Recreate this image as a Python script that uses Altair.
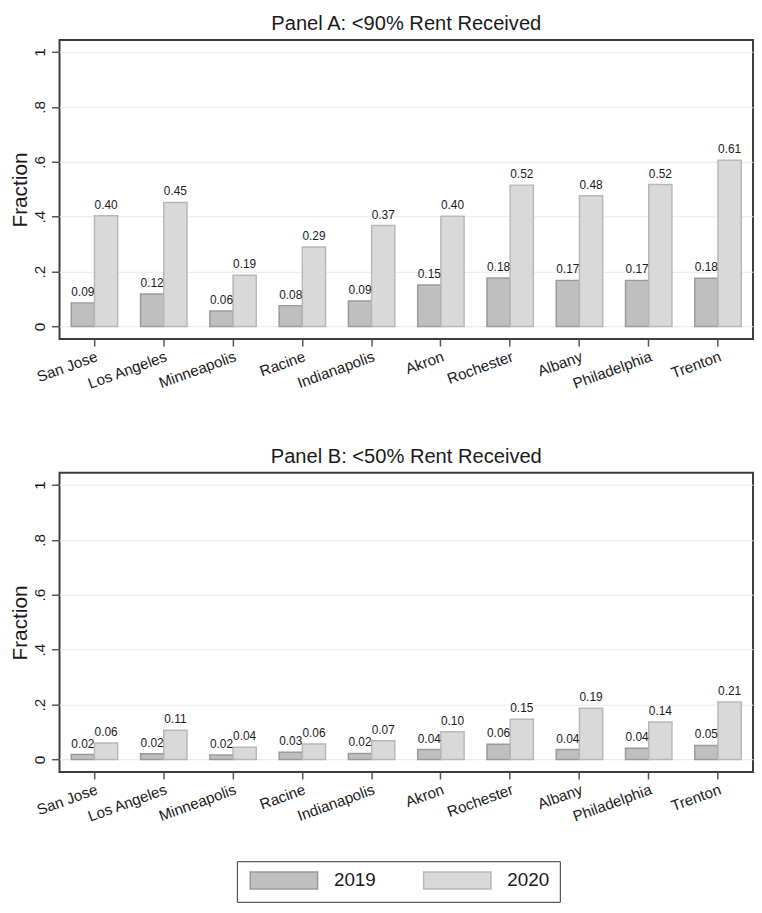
import altair as alt
import pandas as pd

cities = ["San Jose", "Los Angeles", "Minneapolis", "Racine", "Indianapolis",
          "Akron", "Rochester", "Albany", "Philadelphia", "Trenton"]
years = ["2019", "2020"]

# Panel A: <90% rent received
a_2019 = [0.086, 0.118, 0.056, 0.076, 0.093, 0.151, 0.177, 0.168, 0.168, 0.176]
a_2020 = [0.403, 0.452, 0.187, 0.290, 0.368, 0.402, 0.515, 0.476, 0.517, 0.606]
# Panel B: <50% rent received
b_2019 = [0.018, 0.021, 0.016, 0.026, 0.022, 0.036, 0.055, 0.036, 0.041, 0.051]
b_2020 = [0.060, 0.106, 0.044, 0.056, 0.068, 0.101, 0.146, 0.186, 0.136, 0.209]

y_ticks = [0, 0.2, 0.4, 0.6, 0.8, 1]
fill_colors = ["#bfbfbf", "#d9d9d9"]
stroke_colors = ["#9a9a9a", "#b8b8b8"]

FONT = "Liberation Sans"
TXT = "#1a1a1a"

legend = alt.Legend(
    orient="none", legendX=179, legendY=829, direction="horizontal", title=None,
    symbolType="M-4,-1H4V1H-4Z", symbolSize=289, symbolStrokeWidth=1.5,
    symbolOffset=28,
    labelFontSize=19, labelFont=FONT, labelColor=TXT, labelOffset=41,
    columnPadding=44, padding=10, strokeColor="#333333", fillColor="white",
    symbolOpacity=1,
)


def panel(v19, v20, title):
    df = pd.DataFrame({
        "city": cities * 2,
        "year": [years[0]] * len(cities) + [years[1]] * len(cities),
        "value": v19 + v20,
    })
    x = alt.X(
        "city:N", sort=cities, title=None,
        scale=alt.Scale(paddingInner=0.33, paddingOuter=0.17),
        axis=alt.Axis(labelAngle=340, labelAlign="right", labelBaseline="top",
                      labelFontSize=15.3, labelFont=FONT, labelColor=TXT,
                      labelPadding=3, tickSize=7, tickWidth=1.5, tickColor="#555555",
                      domain=False, grid=False),
    )
    xo = alt.XOffset("year:N", sort=years,
                     scale=alt.Scale(paddingInner=0, paddingOuter=0))
    y = alt.Y(
        "value:Q", title="Fraction",
        scale=alt.Scale(domain=[-0.046, 1.044], nice=False, zero=False),
        axis=alt.Axis(values=y_ticks,
                      labelExpr="datum.value == 0 ? '0' : datum.value == 1 ? '1' : replace(format(datum.value, '.1f'), '0.', '.')",
                      labelAngle=270, labelAlign="center", labelBaseline="bottom",
                      labelFontSize=15.5, labelFont=FONT, labelColor=TXT, labelPadding=4,
                      tickSize=8, tickWidth=1.5, tickColor="#555555",
                      domain=False, grid=True, gridColor="#e9e9e9", gridWidth=1,
                      titleFontSize=21, titleFont=FONT, titleColor=TXT,
                      titleFontWeight="normal", titlePadding=2),
    )
    bars = alt.Chart(df).mark_bar(strokeWidth=1.5).encode(
        x=x, xOffset=xo, y=y,
        fill=alt.Fill("year:N", sort=years,
                      scale=alt.Scale(domain=years, range=fill_colors), legend=legend),
        stroke=alt.Stroke("year:N", sort=years,
                          scale=alt.Scale(domain=years, range=stroke_colors), legend=legend),
    )
    labels = alt.Chart(df).mark_text(
        baseline="alphabetic", dy=-7, fontSize=12, font=FONT, color=TXT
    ).encode(
        x=x, xOffset=xo, y=alt.Y("value:Q"),
        text=alt.Text("value:Q", format=".2f"),
    )
    return alt.layer(bars, labels).properties(
        width=700, height=302,
        title=alt.TitleParams(title, fontSize=20.3, font=FONT, color=TXT,
                              fontWeight="normal", anchor="middle",
                              baseline="alphabetic", offset=-10),
    )


chart = alt.vconcat(
    panel(a_2019, a_2020, "Panel A: <90% Rent Received"),
    panel(b_2019, b_2020, "Panel B: <50% Rent Received"),
    spacing=52,
).properties(
    padding={"left": 0, "top": 0, "right": 0, "bottom": 0},
    background="white",
).configure_view(
    stroke="#3c3c3c", strokeWidth=2,
)

chart.save("out.html", embed_options={"renderer": "svg", "actions": False})
